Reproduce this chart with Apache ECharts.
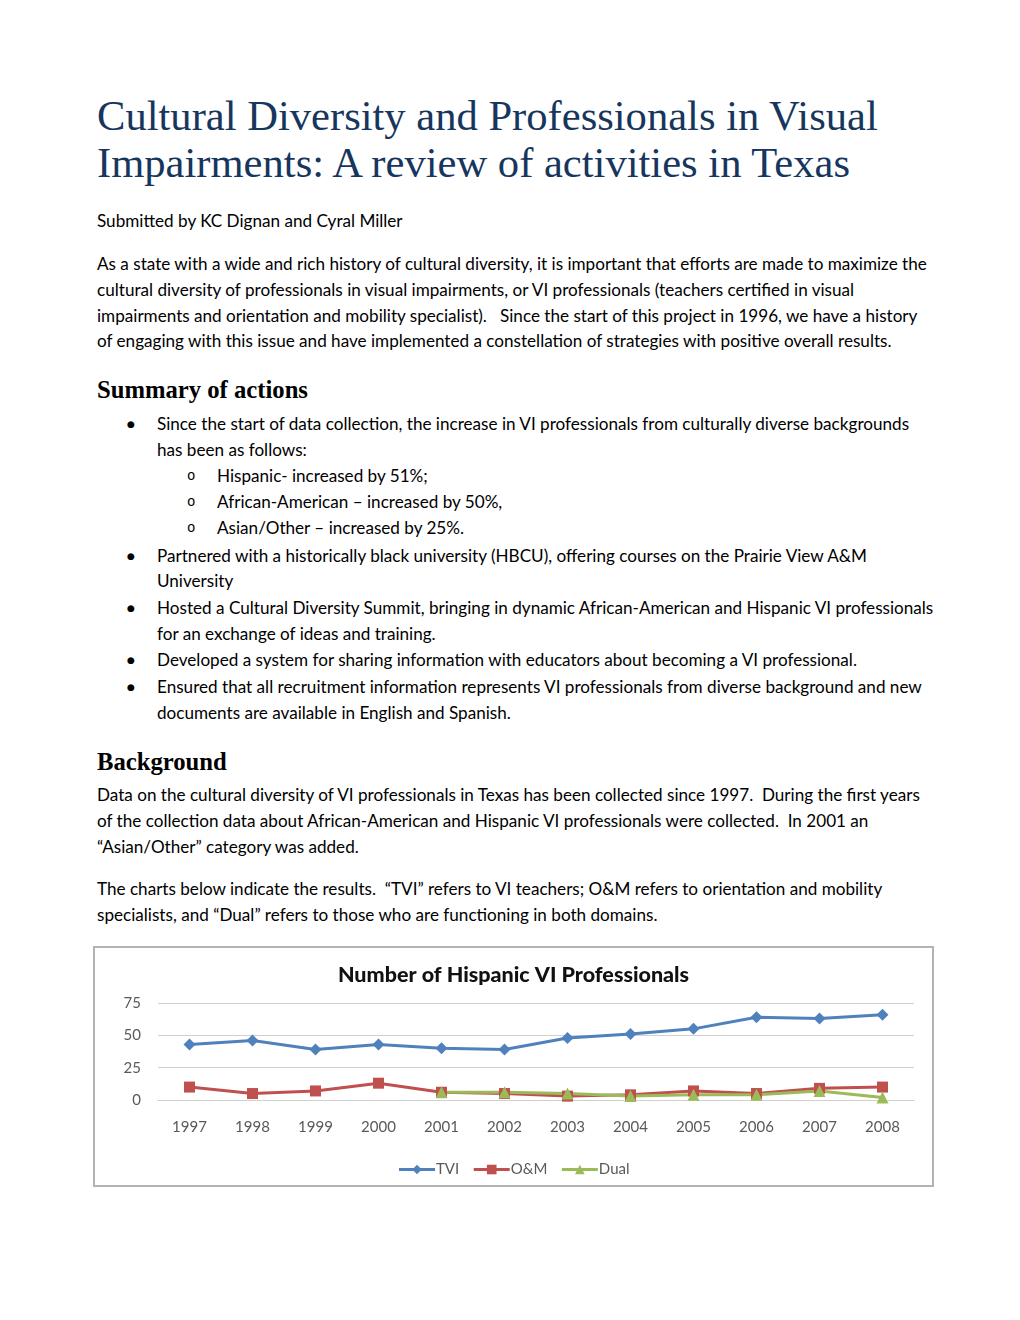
<!DOCTYPE html>
<html>
<head>
<meta charset="utf-8">
<script src="https://cdn.jsdelivr.net/npm/echarts@6/dist/echarts.min.js"></script>
<style>
  html, body { margin: 0; padding: 0; background: #fff; }
  #page { position: relative; width: 1020px; height: 1320px; overflow: hidden; background: #fff; }
  .ln { position: absolute; white-space: nowrap; color: #000; }
  .ln span { display: inline-block; }
  .body { font-family: Lato, "Open Sans", sans-serif; font-size: var(--bfs, 16px); line-height: 26px; height: 26px; }
  .title { font-family: "Liberation Serif", "DejaVu Serif", serif; color: #17365D; font-size: var(--tfs, 40px); line-height: 48px; height: 48px; }
  .head { font-family: "Liberation Serif", "DejaVu Serif", serif; font-weight: bold; font-size: var(--hfs, 21px); line-height: 30px; height: 30px; }
  .bul { position: absolute; font-family: "DejaVu Sans", sans-serif; font-size: 9px; line-height: 26px; height: 26px; color:#000; }
  .sub { position: absolute; font-family: "Liberation Mono", monospace; font-size: 14px; line-height: 26px; height: 26px; color:#000; }
  #chartBox { position: absolute; left: 93px; top: 946px; width: 841px; height: 241px; box-sizing: border-box; border: 2px solid #b3b3b3; background: #fff; }
  #chart { width: 837px; height: 237px; }
</style>
</head>
<body>
<div id="page">
  <div class="ln title" style="left:97px; top:92px;"><span id="fitTitle">Cultural Diversity and Professionals in Visual</span></div>
  <div class="ln title" style="left:97px; top:139px;"><span>Impairments: A review of activities in Texas</span></div>

  <div class="ln body" style="left:97px; top:208px;"><span>Submitted by KC Dignan and Cyral Miller</span></div>

  <div class="ln body" style="left:97px; top:251px;"><span id="fitBody">As a state with a wide and rich history of cultural diversity, it is important that efforts are made to maximize the</span></div>
  <div class="ln body" style="left:97px; top:277px;"><span>cultural diversity of professionals in visual impairments, or VI professionals (teachers certified in visual</span></div>
  <div class="ln body" style="left:97px; top:303px;"><span>impairments and orientation and mobility specialist).&nbsp;&nbsp; Since the start of this project in 1996, we have a history</span></div>
  <div class="ln body" style="left:97px; top:328px;"><span>of engaging with this issue and have implemented a constellation of strategies with positive overall results.</span></div>

  <div class="ln head" style="left:97px; top:375px;"><span id="fitHead">Summary of actions</span></div>

  <div class="bul" style="left:127px; top:411px;">●</div>
  <div class="ln body" style="left:157px; top:411px;"><span>Since the start of data collection, the increase in VI professionals from culturally diverse backgrounds</span></div>
  <div class="ln body" style="left:157px; top:437px;"><span>has been as follows:</span></div>
  <div class="sub" style="left:187px; top:463px;">o</div>
  <div class="ln body" style="left:217px; top:463px;"><span>Hispanic- increased by 51%;</span></div>
  <div class="sub" style="left:187px; top:489px;">o</div>
  <div class="ln body" style="left:217px; top:489px;"><span>African-American – increased by 50%,</span></div>
  <div class="sub" style="left:187px; top:515px;">o</div>
  <div class="ln body" style="left:217px; top:515px;"><span>Asian/Other – increased by 25%.</span></div>
  <div class="bul" style="left:127px; top:543px;">●</div>
  <div class="ln body" style="left:157px; top:543px;"><span>Partnered with a historically black university (HBCU), offering courses on the Prairie View A&amp;M</span></div>
  <div class="ln body" style="left:157px; top:568px;"><span>University</span></div>
  <div class="bul" style="left:127px; top:595px;">●</div>
  <div class="ln body" style="left:157px; top:595px;"><span>Hosted a Cultural Diversity Summit, bringing in dynamic African-American and Hispanic VI professionals</span></div>
  <div class="ln body" style="left:157px; top:621px;"><span>for an exchange of ideas and training.</span></div>
  <div class="bul" style="left:127px; top:647px;">●</div>
  <div class="ln body" style="left:157px; top:647px;"><span>Developed a system for sharing information with educators about becoming a VI professional.</span></div>
  <div class="bul" style="left:127px; top:674px;">●</div>
  <div class="ln body" style="left:157px; top:674px;"><span>Ensured that all recruitment information represents VI professionals from diverse background and new</span></div>
  <div class="ln body" style="left:157px; top:700px;"><span>documents are available in English and Spanish.</span></div>

  <div class="ln head" style="left:97px; top:747px;"><span>Background</span></div>
  <div class="ln body" style="left:97px; top:782px;"><span>Data on the cultural diversity of VI professionals in Texas has been collected since 1997.&nbsp; During the first years</span></div>
  <div class="ln body" style="left:97px; top:808px;"><span>of the collection data about African-American and Hispanic VI professionals were collected.&nbsp; In 2001 an</span></div>
  <div class="ln body" style="left:97px; top:834px;"><span>“Asian/Other” category was added.</span></div>

  <div class="ln body" style="left:97px; top:876px;"><span>The charts below indicate the results.&nbsp; “TVI” refers to VI teachers; O&amp;M refers to orientation and mobility</span></div>
  <div class="ln body" style="left:97px; top:902px;"><span>specialists, and “Dual” refers to those who are functioning in both domains.</span></div>

  <div id="chartBox"><div id="chart"></div></div>
</div>

<script>
// ---- data ----
var years = ['1997','1998','1999','2000','2001','2002','2003','2004','2005','2006','2007','2008'];
var tvi   = [43, 46, 39, 43, 40, 39, 48, 51, 55, 64, 63, 66];
var om    = [10, 5, 7, 13, 6, 5, 3, 4, 7, 5, 9, 10];
var dual  = [null, null, null, null, 6, 6, 5, 3, 4, 4, 7, 2];
var yTicks = [0, 25, 50, 75];
var chartTitle = 'Number of Hispanic VI Professionals';

// ---- fit text sizes ----
function fit(id, target, varName, start) {
  var root = document.documentElement;
  root.style.setProperty(varName, start + 'px');
  var w = document.getElementById(id).getBoundingClientRect().width;
  root.style.setProperty(varName, (start * target / w).toFixed(2) + 'px');
}
fit('fitBody', 830, '--bfs', 16);
fit('fitTitle', 781, '--tfs', 40);
fit('fitHead', 211, '--hfs', 21);

// ---- chart ----
var chart = echarts.init(document.getElementById('chart'), null, { renderer: 'canvas' });
var lblFont = 'Lato, "Open Sans", sans-serif';
chart.setOption({
  animation: false,
  backgroundColor: '#fff',
  title: {
    text: chartTitle, left: 'center', top: 11,
    textStyle: { fontFamily: lblFont, fontWeight: 900, fontSize: 21.5, color: '#111' }
  },
  legend: {
    bottom: 3, left: 'center', itemWidth: 36, itemHeight: 12, itemGap: 13,
    lineStyle: { width: 3 },
    textStyle: { fontFamily: lblFont, fontSize: 15, color: '#595959', padding: [0, 0, 0, -4] },
    data: ['TVI', 'O&M', 'Dual']
  },
  grid: { left: 63, right: 18, top: 55, bottom: 85, containLabel: false },
  xAxis: {
    type: 'category', data: years, boundaryGap: true,
    axisLine: { show: true, lineStyle: { color: '#d0d0d0', width: 1 } },
    axisTick: { show: false },
    axisLabel: { margin: 20, fontFamily: lblFont, fontSize: 15, color: '#595959' }
  },
  yAxis: {
    type: 'value', min: yTicks[0], max: yTicks[yTicks.length - 1], interval: 25,
    axisLine: { show: false }, axisTick: { show: false },
    splitLine: { lineStyle: { color: '#d0d0d0', width: 1 } },
    axisLabel: { margin: 17, fontFamily: lblFont, fontSize: 15, color: '#595959' }
  },
  series: [
    { name: 'TVI', type: 'line', data: tvi, color: '#4F81BD', symbol: 'diamond', symbolSize: 12,
      lineStyle: { width: 3 }, itemStyle: { color: '#4F81BD' } },
    { name: 'O&M', type: 'line', data: om, color: '#C0504D', symbol: 'rect', symbolSize: 11,
      lineStyle: { width: 3 }, itemStyle: { color: '#C0504D' } },
    { name: 'Dual', type: 'line', data: dual, color: '#9BBB59', symbol: 'triangle', symbolSize: 12,
      lineStyle: { width: 3 }, itemStyle: { color: '#9BBB59' } }
  ]
});
</script>
</body>
</html>
